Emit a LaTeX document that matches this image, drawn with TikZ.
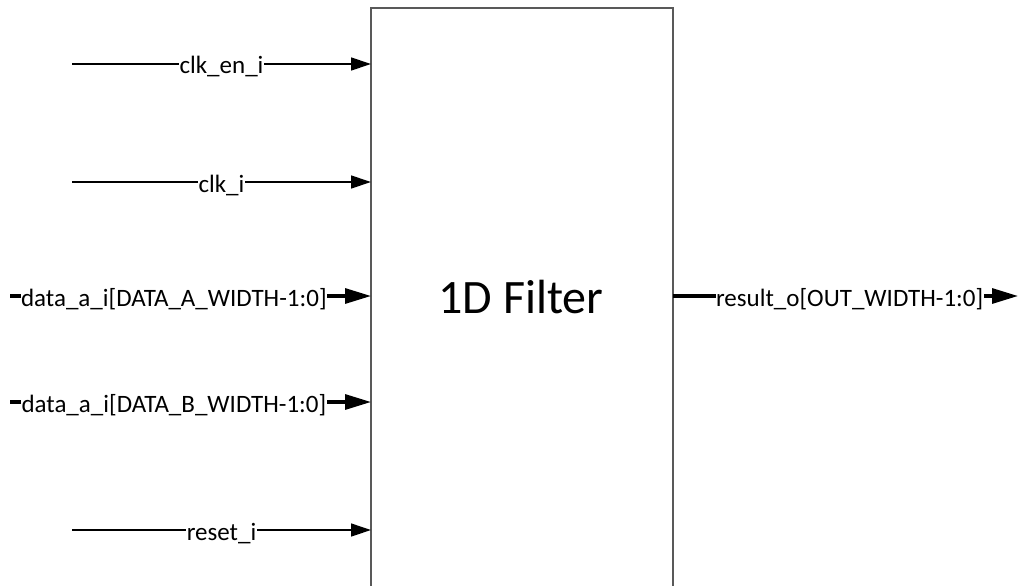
\documentclass[tikz,border=0pt]{standalone}
\usepackage{fontspec}
\setmainfont{Carlito}
\usetikzlibrary{arrows.meta}
\begin{document}
\begin{tikzpicture}[x=1pt,y=-1pt,
  sig/.style={line width=1.3pt,-{Triangle[length=20pt,width=13pt]}},
  bus/.style={line width=3.2pt,-{Triangle[length=26pt,width=15pt]}},
  lbl/.style={fill=white,inner xsep=0.5pt,inner ysep=1pt,font=\fontsize{25}{29}\selectfont,anchor=base,yshift=-10pt},
  blk/.style={draw=black!65,line width=1.5pt,fill=white}]
\useasboundingbox (0,0) rectangle (1020,586);
\clip (0,0) rectangle (1020,586);
\draw[blk] (371,8) rectangle (673,640);
\node[font=\fontsize{48}{56}\selectfont,anchor=base] (title) at (521,313) {1D Filter};
% inputs
\coordinate (s1) at (72,64);   \coordinate (e1) at (371,64);
\coordinate (s2) at (72,182);  \coordinate (e2) at (371,182);
\coordinate (s3) at (10,296);  \coordinate (e3) at (371,296);
\coordinate (s4) at (10,402);  \coordinate (e4) at (371,402);
\coordinate (s5) at (72,530);  \coordinate (e5) at (371,530);
\coordinate (s6) at (673,296); \coordinate (e6) at (1018,296);
\draw[sig] (s1) -- node[lbl] (l1) {clk\_en\_i} (e1);
\draw[sig] (s2) -- node[lbl] (l2) {clk\_i} (e2);
\draw[bus] (s3) -- node[lbl,pos=0.454] (l3) {data\_a\_i[DATA\_A\_WIDTH-1:0]} (e3);
\draw[bus] (s4) -- node[lbl,pos=0.454] (l4) {data\_a\_i[DATA\_B\_WIDTH-1:0]} (e4);
\draw[sig] (s5) -- node[lbl] (l5) {reset\_i} (e5);
\draw[bus] (s6) -- node[lbl,pos=0.512] (l6) {result\_o[OUT\_WIDTH-1:0]} (e6);
\end{tikzpicture}
\end{document}
